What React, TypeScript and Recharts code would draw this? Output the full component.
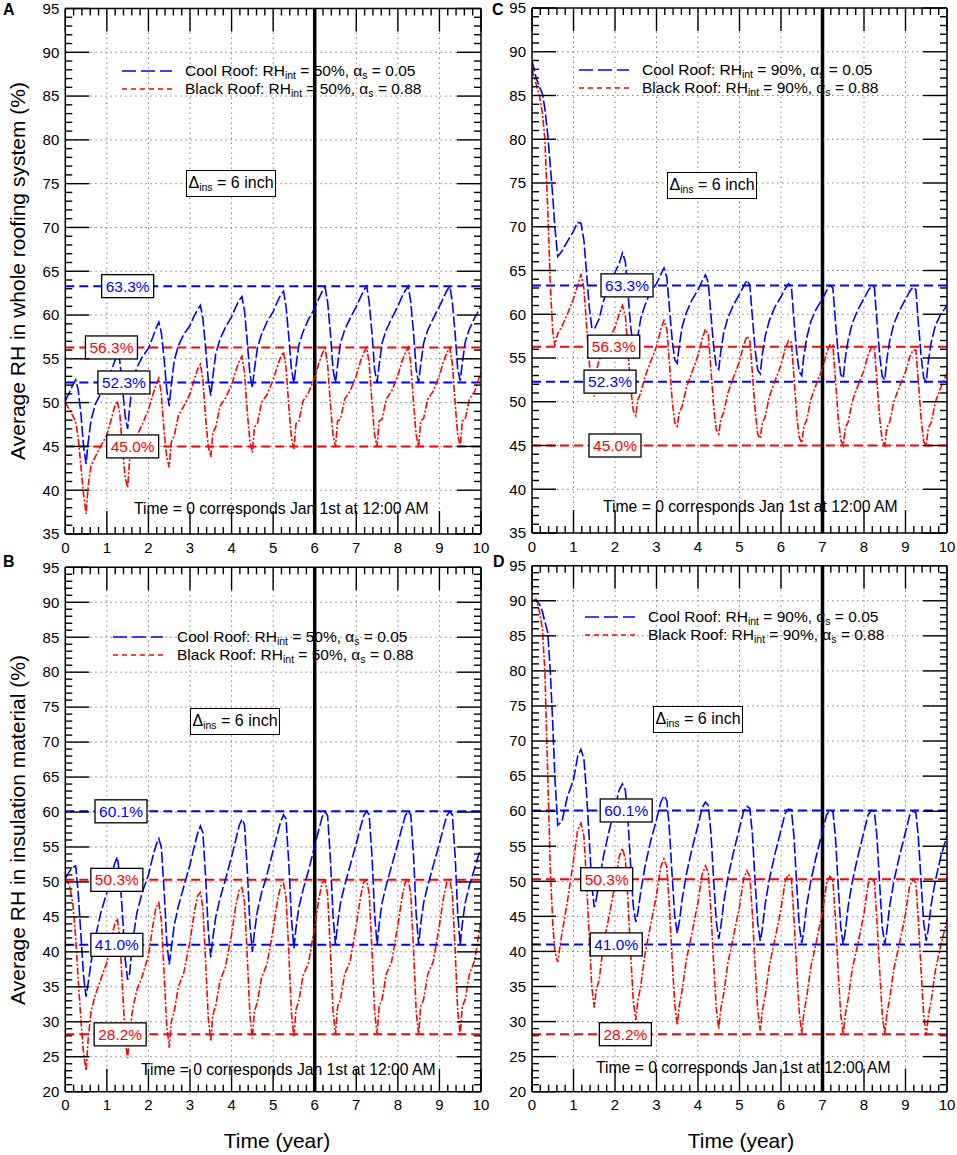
import React from "react";
import { LineChart, Line, XAxis, YAxis, ReferenceLine, ReferenceDot } from "recharts";

// time grid (years), shared by every series
const T = [
  0, 0.1, 0.18, 0.25, 0.31, 0.38, 0.44, 0.5, 0.55, 0.62, 0.72, 0.85,
  1, 1.1, 1.18, 1.25, 1.31, 1.38, 1.44, 1.5, 1.55, 1.62, 1.72, 1.85,
  2, 2.1, 2.18, 2.25, 2.31, 2.38, 2.44, 2.5, 2.55, 2.62, 2.72, 2.85,
  3, 3.1, 3.18, 3.25, 3.31, 3.38, 3.44, 3.5, 3.55, 3.62, 3.72, 3.85,
  4, 4.1, 4.18, 4.25, 4.31, 4.38, 4.44, 4.5, 4.55, 4.62, 4.72, 4.85,
  5, 5.1, 5.18, 5.25, 5.31, 5.38, 5.44, 5.5, 5.55, 5.62, 5.72, 5.85,
  6, 6.1, 6.18, 6.25, 6.31, 6.38, 6.44, 6.5, 6.55, 6.62, 6.72, 6.85,
  7, 7.1, 7.18, 7.25, 7.31, 7.38, 7.44, 7.5, 7.55, 7.62, 7.72, 7.85,
  8, 8.1, 8.18, 8.25, 8.31, 8.38, 8.44, 8.5, 8.55, 8.62, 8.72, 8.85,
  9, 9.1, 9.18, 9.25, 9.31, 9.38, 9.44, 9.5, 9.55, 9.62, 9.72, 9.85,
  10,
];

// A: whole roofing system, RHint = 50%
const coolWhole50 = [
  50.2, 51.2, 52.0, 52.6, 51.5, 48.5, 45.0, 43.0, 45.5, 48.0, 49.8, 51.0,
  52.3, 53.6, 54.6, 55.6, 54.8, 51.5, 48.5, 47.0, 49.5, 52.5, 54.0, 55.2,
  56.2, 57.4, 58.5, 59.2, 58.0, 54.8, 51.5, 49.6, 52.0, 54.8, 56.5, 57.8,
  58.8, 59.9, 60.6, 61.1, 59.6, 56.0, 52.5, 50.8, 53.0, 55.6, 57.2, 58.6,
  59.8, 60.9, 61.7, 62.1, 60.5, 56.8, 53.3, 51.7, 53.8, 56.2, 57.8, 59.2,
  60.4, 61.5, 62.3, 62.7, 61.0, 57.3, 53.8, 52.2, 54.2, 56.6, 58.1, 59.5,
  60.8, 61.9, 62.7, 63.2, 61.5, 57.8, 53.8, 52.3, 54.3, 56.8, 58.3, 59.6,
  61.0, 62.0, 62.8, 63.3, 61.5, 57.8, 53.8, 52.3, 54.3, 56.8, 58.3, 59.6,
  61.0, 62.1, 62.8, 63.3, 61.5, 57.8, 53.8, 52.3, 54.3, 56.8, 58.3, 59.6,
  61.0, 62.0, 62.8, 63.3, 61.5, 57.8, 53.8, 52.5, 54.5, 56.9, 58.4, 59.7,
  61.0,
];
const blackWhole50 = [
  50.0, 49.2, 48.5, 47.8, 46.0, 42.5, 39.5, 37.3, 40.5, 42.8, 43.8, 45.0,
  46.3, 48.0, 49.4, 50.2, 48.8, 44.5, 41.5, 40.3, 43.5, 44.8, 46.2, 47.5,
  49.2, 50.8, 52.0, 52.8, 51.0, 46.5, 43.8, 42.6, 45.5, 46.2, 48.5, 49.6,
  51.0, 52.6, 53.8, 54.4, 52.6, 48.0, 45.0, 43.8, 46.6, 47.2, 49.6, 50.5,
  52.0, 53.6, 54.7, 55.3, 53.5, 48.8, 45.6, 44.3, 47.2, 47.6, 50.0, 50.9,
  52.6, 54.1, 55.2, 55.8, 54.0, 49.4, 46.0, 44.7, 47.6, 47.9, 50.2, 51.1,
  52.9, 54.5, 55.6, 56.2, 54.4, 49.7, 46.3, 45.0, 47.9, 48.1, 50.4, 51.3,
  53.1, 54.7, 55.7, 56.3, 54.5, 49.8, 46.3, 45.0, 47.9, 48.1, 50.4, 51.3,
  53.1, 54.7, 55.7, 56.3, 54.5, 49.8, 46.3, 45.0, 47.9, 48.2, 50.4, 51.3,
  53.1, 54.7, 55.7, 56.3, 54.5, 49.8, 46.3, 45.0, 47.9, 48.1, 50.4, 51.3,
  53.5,
];

// C: whole roofing system, RHint = 90%
const coolWhole90 = [
  89.0, 87.0, 86.0, 85.2, 83.5, 80.5, 77.0, 73.5, 70.0, 66.6, 67.2, 68.3,
  69.5, 70.5, 70.4, 68.5, 65.0, 60.8, 58.5, 58.3, 58.8, 59.5, 61.5, 63.2,
  64.8, 65.8, 67.0, 66.0, 62.5, 58.5, 56.2, 55.5, 57.5, 59.5, 61.0, 62.5,
  63.5, 64.5, 65.3, 64.2, 60.8, 57.0, 54.8, 54.4, 56.5, 58.6, 60.2, 61.6,
  62.8, 63.8, 64.5, 63.6, 60.0, 56.2, 54.0, 53.7, 55.8, 57.9, 59.6, 61.0,
  62.3, 63.2, 63.9, 63.3, 59.7, 55.8, 53.6, 53.2, 55.4, 57.5, 59.3, 60.8,
  62.0, 62.9, 63.5, 63.2, 59.5, 55.6, 53.4, 53.0, 55.2, 57.3, 59.2, 60.6,
  61.8, 62.7, 63.3, 63.0, 59.3, 55.4, 53.1, 52.7, 55.0, 57.1, 59.0, 60.5,
  61.8, 62.7, 63.2, 63.1, 59.3, 55.2, 52.9, 52.5, 54.8, 57.0, 58.9, 60.4,
  61.7, 62.6, 63.1, 62.8, 59.0, 55.0, 52.7, 52.3, 54.6, 56.8, 58.7, 60.0,
  61.0,
];
const blackWhole90 = [
  88.0, 86.3, 85.0, 83.0, 80.0, 72.0, 63.5, 58.0, 56.4, 57.8, 58.6, 60.0,
  61.8, 63.3, 64.6, 63.0, 59.0, 54.5, 51.5, 50.6, 53.5, 54.8, 55.5, 57.0,
  58.5, 60.0, 61.0, 59.8, 56.0, 51.5, 49.0, 48.4, 50.2, 51.0, 52.8, 54.5,
  56.3, 58.2, 59.3, 58.3, 54.5, 50.0, 47.6, 47.2, 48.8, 49.5, 51.6, 53.3,
  55.3, 57.2, 58.3, 57.6, 53.8, 49.3, 46.8, 46.3, 48.0, 48.8, 51.0, 52.7,
  54.6, 56.5, 57.5, 57.0, 53.3, 48.8, 46.3, 45.8, 47.6, 48.3, 50.6, 52.3,
  54.2, 56.0, 57.0, 56.8, 53.0, 48.4, 45.9, 45.3, 47.2, 47.9, 50.3, 52.0,
  53.8, 55.6, 56.5, 56.5, 52.7, 48.1, 45.6, 45.0, 47.0, 47.7, 50.1, 51.8,
  53.6, 55.4, 56.2, 56.2, 52.5, 48.0, 45.5, 45.0, 47.0, 47.7, 50.0, 51.7,
  53.4, 55.1, 55.9, 55.9, 52.3, 47.9, 45.4, 45.0, 47.0, 47.6, 50.0, 51.6,
  53.3,
];

// B: insulation material, RHint = 50%
const coolIns50 = [
  50.5, 51.5, 52.1, 52.3, 48.5, 42.0, 36.5, 33.6, 35.5, 38.5, 42.0, 45.5,
  48.5, 50.8, 52.5, 53.6, 51.0, 45.0, 39.0, 36.0, 37.0, 41.5, 45.5, 48.5,
  51.0, 53.5, 55.2, 56.2, 55.0, 48.5, 41.5, 38.2, 40.5, 43.8, 46.5, 49.3,
  52.5, 55.0, 56.9, 58.0, 57.0, 50.3, 43.0, 39.2, 42.0, 45.0, 47.6, 50.3,
  53.6, 56.0, 58.0, 59.0, 58.2, 51.5, 44.0, 40.0, 42.8, 45.8, 48.4, 51.0,
  54.5, 56.8, 58.6, 59.6, 59.0, 52.3, 44.8, 40.5, 43.4, 46.4, 48.9, 51.6,
  55.2, 57.5, 59.3, 60.0, 59.5, 53.0, 45.2, 41.0, 44.0, 47.0, 49.5, 52.3,
  55.5, 57.8, 59.5, 60.1, 59.6, 53.5, 45.5, 41.0, 44.0, 47.0, 49.5, 52.3,
  55.5, 57.8, 59.5, 60.1, 59.6, 53.5, 45.5, 41.0, 44.0, 47.0, 49.5, 52.3,
  55.5, 57.8, 59.5, 60.1, 59.6, 53.5, 45.5, 41.0, 44.0, 47.0, 49.5, 52.0,
  55.0,
];
const blackIns50 = [
  50.5, 49.5, 47.0, 42.0, 36.0, 30.0, 25.5, 23.0, 27.5, 31.5, 33.8, 36.0,
  38.5, 41.5, 43.8, 44.8, 42.0, 34.5, 27.5, 24.8, 28.5, 31.8, 34.5, 36.5,
  39.5, 43.5, 46.3, 47.0, 44.5, 36.5, 29.5, 26.3, 30.0, 31.5, 35.0, 37.0,
  41.5, 45.5, 48.0, 48.5, 46.3, 38.0, 30.5, 27.2, 31.0, 32.3, 35.8, 37.8,
  42.5, 46.5, 48.8, 49.2, 47.2, 39.0, 31.0, 27.6, 31.5, 32.8, 36.3, 38.2,
  43.2, 47.2, 49.4, 49.8, 47.8, 39.5, 31.3, 27.8, 31.8, 33.0, 36.6, 38.4,
  43.6, 47.6, 49.9, 50.2, 48.2, 39.9, 31.5, 28.2, 32.2, 33.2, 36.8, 38.6,
  43.8, 47.8, 50.0, 50.3, 48.3, 40.0, 31.5, 28.2, 32.2, 33.2, 36.8, 38.6,
  43.8, 47.8, 50.0, 50.3, 48.3, 40.0, 31.5, 28.2, 32.2, 33.2, 36.8, 38.6,
  43.8, 47.8, 50.0, 50.3, 48.3, 40.0, 31.5, 28.2, 32.2, 33.2, 36.8, 38.8,
  44.5,
];

// D: insulation material, RHint = 90%
const coolIns90 = [
  90.0, 90.0, 89.5, 88.5, 87.0, 85.5, 80.0, 72.5, 65.0, 58.0, 58.5, 62.0,
  64.5, 67.8, 68.8, 67.5, 63.0, 56.0, 49.5, 46.3, 47.5, 50.0, 53.5, 57.0,
  60.5, 63.0, 63.9, 63.0, 59.0, 52.0, 46.5, 44.2, 45.5, 48.5, 52.0, 55.5,
  58.8, 61.2, 62.2, 61.5, 57.5, 50.5, 45.0, 42.6, 44.2, 47.5, 51.0, 54.5,
  58.0, 60.5, 61.3, 60.8, 57.0, 50.0, 44.3, 41.8, 43.5, 47.0, 50.5, 54.0,
  57.6, 60.0, 60.7, 60.4, 56.8, 49.6, 44.0, 41.5, 43.2, 46.8, 50.3, 53.8,
  57.3, 59.7, 60.3, 60.2, 56.6, 49.4, 43.7, 41.2, 43.0, 46.6, 50.1, 53.6,
  57.1, 59.5, 60.1, 60.0, 56.5, 49.3, 43.5, 41.0, 42.9, 46.5, 50.0, 53.5,
  57.1, 59.5, 60.1, 60.0, 56.5, 49.3, 43.5, 41.0, 42.9, 46.5, 50.0, 53.5,
  57.0, 59.4, 60.0, 59.8, 56.3, 49.5, 44.0, 41.5, 43.2, 46.7, 50.1, 53.5,
  56.5,
];
const blackIns90 = [
  90.0, 90.2, 88.5, 86.0, 80.0, 65.0, 52.0, 44.0, 40.0, 38.5, 42.5, 47.0,
  53.0, 57.3, 58.3, 56.5, 50.5, 42.0, 35.0, 32.0, 34.5, 36.0, 41.0, 44.8,
  49.5, 53.5, 54.7, 53.2, 47.5, 39.5, 33.0, 30.2, 33.0, 35.0, 39.5, 43.5,
  48.0, 52.0, 53.2, 52.0, 46.5, 38.5, 32.5, 29.5, 32.3, 34.5, 38.8, 42.5,
  47.0, 51.0, 52.2, 51.2, 45.8, 38.0, 32.0, 29.0, 31.8, 34.0, 38.3, 42.0,
  46.4, 50.4, 51.5, 50.7, 45.3, 37.6, 31.6, 28.7, 31.5, 33.7, 38.0, 41.6,
  46.0, 50.0, 51.0, 50.4, 45.0, 37.3, 31.3, 28.3, 31.2, 33.5, 37.8, 41.3,
  45.6, 49.8, 50.7, 50.2, 44.8, 37.0, 31.0, 28.2, 31.0, 33.3, 37.6, 41.0,
  45.4, 49.6, 50.5, 50.0, 44.6, 37.0, 31.0, 28.2, 31.0, 33.3, 37.5, 41.0,
  45.3, 49.4, 50.3, 49.8, 44.5, 36.8, 30.8, 28.0, 30.8, 33.0, 37.3, 40.8,
  44.5,
];

// max / min bounds marked with dashed lines
const wholeCoolBounds = [63.3, 52.3];
const wholeBlackBounds = [56.3, 45.0];
const insCoolBounds = [60.1, 41.0];
const insBlackBounds = [50.3, 28.2];

const X_MAJOR = [0, 1, 2, 3, 4, 5, 6, 7, 8, 9, 10];
const X_TICKS = Array.from({ length: 51 }, (_, i) => Math.round(i * 2) / 10);

const BLUE = "#0000ff";
const RED = "#ff0000";
const FONT = '"Liberation Sans", Arial, Helvetica, sans-serif';
const AXIS = { stroke: "#000", strokeWidth: 1.5 };

// axis ticks point inwards; x/y passed in are the point on the axis line
function makeTick(side: string, showLabels: boolean) {
  return (props: any) => {
    const { x, y, payload } = props;
    const v = payload.value as number;
    if (side === "top" || side === "bottom") {
      const major = Math.abs(v - Math.round(v)) < 1e-6;
      const len = major ? 23 : 7;
      const dir = side === "bottom" ? -1 : 1;
      return (
        <g>
          <line x1={x} y1={y} x2={x} y2={y + dir * len} stroke="#000" strokeWidth={1.4} />
          {showLabels && major && (
            <text x={x} y={y + 18.5} textAnchor="middle" fontSize={15} fontFamily={FONT} fill="#000">
              {Math.round(v)}
            </text>
          )}
        </g>
      );
    }
    const major = v % 5 === 0;
    const len = major ? 24 : 7;
    const dir = side === "left" ? 1 : -1;
    return (
      <g>
        <line x1={x} y1={y} x2={x + dir * len} y2={y} stroke="#000" strokeWidth={1.4} />
        {showLabels && major && (
          <text x={x - 6} y={y + 5.3} textAnchor="end" fontSize={15} fontFamily={FONT} fill="#000">
            {v}
          </text>
        )}
      </g>
    );
  };
}

function boxLabel(value: number, color: string) {
  return (props: any) => (
    <g>
      <rect x={props.cx - 26} y={props.cy - 11.5} width={52} height={23} fill="#fff" stroke="#000" strokeWidth={1.3} />
      <text x={props.cx} y={props.cy + 5.5} textAnchor="middle" fontSize={15.5} fontFamily={FONT} fill={color}>
        {value.toFixed(1)}%
      </text>
    </g>
  );
}

type PanelProps = {
  left: number;
  top: number;
  width: number;
  height: number;
  plot: { top: number; right: number; bottom: number; left: number };
  yMin: number;
  yMax: number;
  cool: number[];
  black: number[];
  coolBounds: number[];
  blackBounds: number[];
  coolLabelX: number[];
  blackLabelX: number[];
  markerYear: number;
};

function Panel(p: PanelProps) {
  const coolData = T.map((t, i) => ({ t, v: p.cool[i] }));
  const blackData = T.map((t, i) => ({ t, v: p.black[i] }));
  const yTicks = Array.from({ length: p.yMax - p.yMin + 1 }, (_, i) => p.yMin + i);
  const yGrid = yTicks.filter((v) => v % 5 === 0 && v > p.yMin && v < p.yMax);
  const ids = { xAxisId: "b", yAxisId: "l" };
  // axes take the whole margin so that the plot box lands where wanted
  const margin = { top: 0, right: 0, bottom: 0, left: 0 };
  return (
    <div style={{ position: "absolute", left: p.left, top: p.top }}>
      <LineChart width={p.width} height={p.height} margin={margin}>
        <XAxis xAxisId="b" orientation="bottom" type="number" dataKey="t" domain={[0, 10]} ticks={X_TICKS}
          interval={0} height={p.plot.bottom} tickSize={0} tickMargin={0} tickLine={false} axisLine={AXIS}
          tick={makeTick("bottom", true)} allowDataOverflow />
        <XAxis xAxisId="t" orientation="top" type="number" dataKey="t" domain={[0, 10]} ticks={X_TICKS}
          interval={0} height={p.plot.top} tickSize={0} tickMargin={0} tickLine={false} axisLine={AXIS}
          tick={makeTick("top", false)} allowDataOverflow />
        <YAxis yAxisId="l" orientation="left" type="number" domain={[p.yMin, p.yMax]} ticks={yTicks}
          interval={0} width={p.plot.left} tickSize={0} tickMargin={0} tickLine={false} axisLine={AXIS}
          tick={makeTick("left", true)} allowDataOverflow />
        <YAxis yAxisId="r" orientation="right" type="number" domain={[p.yMin, p.yMax]} ticks={yTicks}
          interval={0} width={p.plot.right} tickSize={0} tickMargin={0} tickLine={false} axisLine={AXIS}
          tick={makeTick("right", false)} allowDataOverflow />
        {yGrid.map((v) => (
          <ReferenceLine key={"gy" + v} {...ids} y={v} stroke="#808080" strokeWidth={1} strokeDasharray="1.5 3.5" />
        ))}
        {X_MAJOR.slice(1, -1).map((v) => (
          <ReferenceLine key={"gx" + v} {...ids} x={v} stroke="#808080" strokeWidth={1} strokeDasharray="1.5 3.5" />
        ))}
        {p.coolBounds.map((v) => (
          <ReferenceLine key={"cb" + v} {...ids} y={v} stroke={BLUE} strokeWidth={2} strokeDasharray="9 5" />
        ))}
        {p.blackBounds.map((v) => (
          <ReferenceLine key={"bb" + v} {...ids} y={v} stroke={RED} strokeWidth={2} strokeDasharray="9 5" />
        ))}
        <ReferenceLine {...ids} x={p.markerYear} stroke="#000" strokeWidth={3.5} />
        {p.coolBounds.map((v, i) => (
          <ReferenceDot key={"cl" + v} {...ids} x={p.coolLabelX[i]} y={v} r={1} ifOverflow="visible" shape={boxLabel(v, BLUE)} />
        ))}
        {p.blackBounds.map((v, i) => (
          <ReferenceDot key={"bl" + v} {...ids} x={p.blackLabelX[i]} y={v} r={1} ifOverflow="visible" shape={boxLabel(v, RED)} />
        ))}
        <Line xAxisId="b" yAxisId="l" data={coolData} dataKey="v" type="linear" stroke={BLUE} strokeWidth={1.6}
          strokeDasharray="11 3" dot={false} isAnimationActive={false} />
        <Line xAxisId="t" yAxisId="r" data={blackData} dataKey="v" type="linear" stroke={RED} strokeWidth={1.6}
          strokeDasharray="7 2 2 2" dot={false} isAnimationActive={false} />
      </LineChart>
    </div>
  );
}

const Sub = ({ children }: { children: React.ReactNode }) => (
  <span style={{ fontSize: 10.5, position: "relative", top: 3, lineHeight: "10px" }}>{children}</span>
);

function Legend({ left, top, rh, textLeft }: { left: number; top: number; rh: number; textLeft: number }) {
  const row = (color: string, dash: string, name: string, alpha: string, y: number) => (
    <div style={{ position: "absolute", left, top: y - 8, height: 16, display: "flex", alignItems: "center", whiteSpace: "nowrap" }}>
      <svg width={50} height={4} style={{ display: "block" }}>
        <line x1={0} y1={2} x2={50} y2={2} stroke={color} strokeWidth={1.5} strokeDasharray={dash} />
      </svg>
      <span style={{ marginLeft: textLeft - left - 50, fontSize: 15.5, lineHeight: "16px" }}>
        {name}: RH<Sub>int</Sub> = {rh}%, α<Sub>s</Sub> = {alpha}
      </span>
    </div>
  );
  return (
    <>
      {row(BLUE, "14 5", "Cool Roof", "0.05", top)}
      {row(RED, "5 4", "Black Roof", "0.88", top + 17.5)}
    </>
  );
}

function InsBox({ left, top }: { left: number; top: number }) {
  return (
    <div style={{ position: "absolute", left, top, width: 88, height: 25, border: "1.3px solid #000", background: "#fff",
      fontSize: 16, lineHeight: "23px", textAlign: "center", whiteSpace: "nowrap" }}>
      Δ<Sub>ins</Sub> = 6 inch
    </div>
  );
}

function Note({ left, cy }: { left: number; cy: number }) {
  return (
    <div style={{ position: "absolute", left, top: cy - 10, height: 20, lineHeight: "20px", fontSize: 15.7, whiteSpace: "nowrap" }}>
      Time = 0 corresponds Jan 1st at 12:00 AM
    </div>
  );
}

const abs = (left: number, top: number, extra: React.CSSProperties = {}): React.CSSProperties => ({
  position: "absolute", left, top, whiteSpace: "nowrap", ...extra,
});

export default function App() {
  return (
    <div style={{ position: "absolute", left: 0, top: 0, width: 957, height: 1155, background: "#fff", fontFamily: FONT, color: "#000" }}>
      <Panel left={0} top={0} width={490} height={560} plot={{ top: 8.5, bottom: 26, left: 65.3, right: 9 }} yMin={35} yMax={95}
        cool={coolWhole50} black={blackWhole50} coolBounds={wholeCoolBounds} blackBounds={wholeBlackBounds}
        coolLabelX={[1.5, 1.41]} blackLabelX={[1.11, 1.62]} markerYear={6} />
      <Panel left={470} top={0} width={487} height={560} plot={{ top: 8, bottom: 27, left: 62, right: 10 }} yMin={35} yMax={95}
        cool={coolWhole90} black={blackWhole90} coolBounds={wholeCoolBounds} blackBounds={wholeBlackBounds}
        coolLabelX={[2.29, 1.88]} blackLabelX={[1.97, 2.0]} markerYear={7} />
      <Panel left={0} top={540} width={490} height={600} plot={{ top: 27.3, bottom: 48.3, left: 65.3, right: 9 }} yMin={20} yMax={95}
        cool={coolIns50} black={blackIns50} coolBounds={insCoolBounds} blackBounds={insBlackBounds}
        coolLabelX={[1.34, 1.24]} blackLabelX={[1.24, 1.32]} markerYear={6} />
      <Panel left={470} top={540} width={487} height={600} plot={{ top: 25.7, bottom: 48.3, left: 62, right: 10 }} yMin={20} yMax={95}
        cool={coolIns90} black={blackIns90} coolBounds={insCoolBounds} blackBounds={insBlackBounds}
        coolLabelX={[2.27, 2.03]} blackLabelX={[1.8, 2.25]} markerYear={7} />

      <Legend left={122} top={71} rh={50} textLeft={185} />
      <Legend left={579} top={70} rh={90} textLeft={642} />
      <Legend left={113} top={637} rh={50} textLeft={177} />
      <Legend left={585} top={617} rh={90} textLeft={648} />

      <InsBox left={186} top={170} />
      <InsBox left={667} top={172} />
      <InsBox left={190} top={708} />
      <InsBox left={653} top={706} />

      <Note left={134} cy={509} />
      <Note left={603} cy={507} />
      <Note left={141} cy={1070} />
      <Note left={596} cy={1068} />

      <div style={abs(3, 1, { fontSize: 16, fontWeight: "bold" })}>A</div>
      <div style={abs(492, 1, { fontSize: 16, fontWeight: "bold" })}>C</div>
      <div style={abs(3, 553, { fontSize: 16, fontWeight: "bold" })}>B</div>
      <div style={abs(493, 553, { fontSize: 16, fontWeight: "bold" })}>D</div>

      <div style={abs(18, 271, { fontSize: 21, transform: "translate(-50%, -50%) rotate(-90deg)" })}>
        Average RH in whole roofing system (%)
      </div>
      <div style={abs(18, 830, { fontSize: 21, transform: "translate(-50%, -50%) rotate(-90deg)" })}>
        Average RH in insulation material (%)
      </div>
      <div style={abs(277, 1141, { fontSize: 21, transform: "translate(-50%, -50%)" })}>Time (year)</div>
      <div style={abs(741, 1141, { fontSize: 21, transform: "translate(-50%, -50%)" })}>Time (year)</div>
    </div>
  );
}
